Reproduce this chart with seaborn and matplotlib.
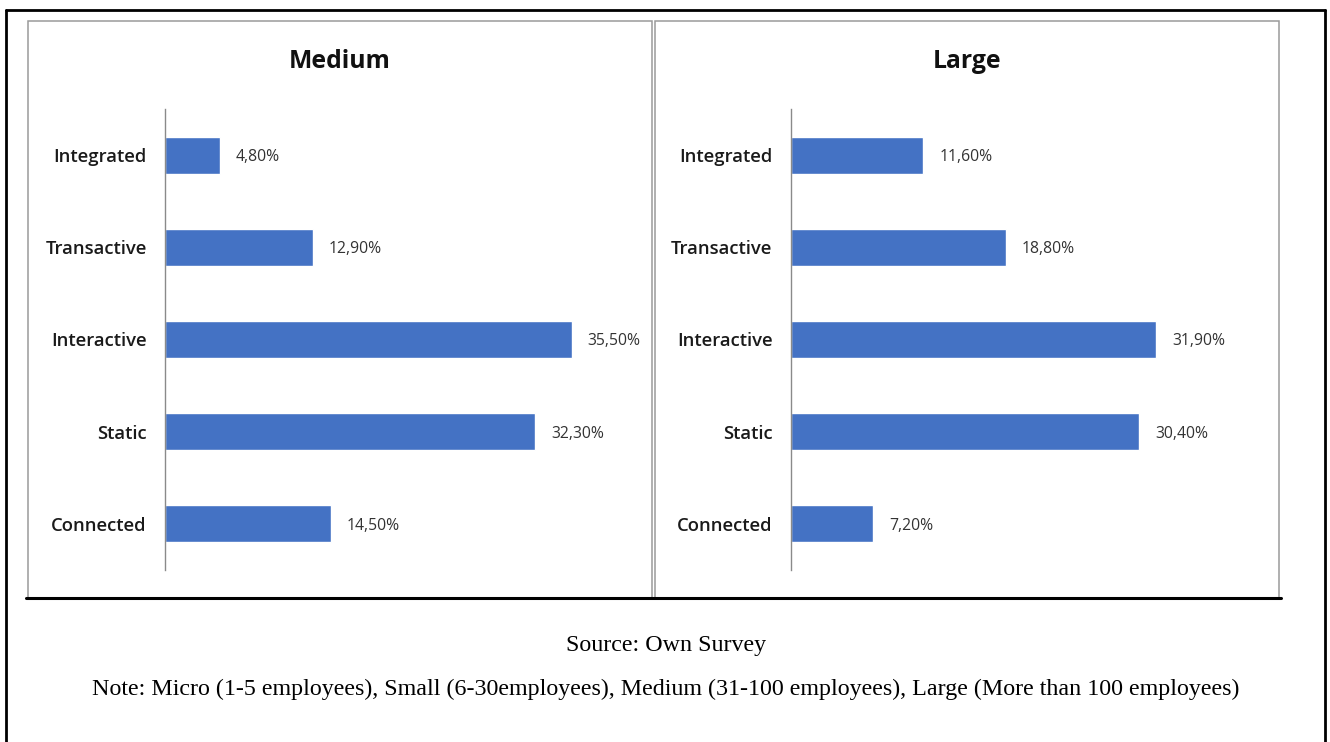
import matplotlib
matplotlib.use("Agg")
import matplotlib.pyplot as plt
from matplotlib.lines import Line2D
from matplotlib.patches import Rectangle
import seaborn as sns
import pandas as pd

# Website maturity stages by company size (share of firms, %)
categories = ["Integrated", "Transactive", "Interactive", "Static", "Connected"]
medium_values = [4.8, 12.9, 35.5, 32.3, 14.5]
large_values = [11.6, 18.8, 31.9, 30.4, 7.2]
panel_titles = ["Medium", "Large"]
source_text = "Source: Own Survey"
note_text = ("Note: Micro (1-5 employees), Small (6-30employees), Medium (31-100 employees), "
             "Large (More than 100 employees)")

BAR_COLOR = "#4472C4"
W, H = 1330, 742

sns.set_theme(style="white")
plt.rcParams["font.family"] = ["Open Sans", "DejaVu Sans"]

fig = plt.figure(figsize=(W / 100, H / 100), dpi=100)
fig.patch.set_facecolor("white")


def fx(x):
    return x / W


def fy(y):
    return 1 - y / H


def add_axes_px(left, top, right, bottom):
    return fig.add_axes([fx(left), fy(bottom), (right - left) / W, (bottom - top) / H])


# Outer black frame (open at the bottom edge of the page)
fig.add_artist(Line2D([fx(6), fx(6)], [fy(10), fy(745)], color="black", lw=2))
fig.add_artist(Line2D([fx(1325), fx(1325)], [fy(10), fy(745)], color="black", lw=2))
fig.add_artist(Line2D([fx(6), fx(1325)], [fy(10), fy(10)], color="black", lw=2))

# Grey chart-area borders of the two panels
panels = [(28, 21, 652, 598), (655, 21, 1279, 598)]
for (l, t, r, b) in panels:
    fig.add_artist(Rectangle((fx(l), fy(b)), (r - l) / W, (b - t) / H,
                             fill=False, edgecolor="#9a9a9a", lw=1.1))

# Black rule under the panels
fig.add_artist(Line2D([fx(26), fx(1281)], [fy(598), fy(598)], color="black", lw=2.2))

axis_lefts = [164.7, 790.5]
PX_PER_PCT = 11.46
XMAX = 40
series = [medium_values, large_values]

for i, (values, title) in enumerate(zip(series, panel_titles)):
    left = axis_lefts[i]
    ax = add_axes_px(left, 109, left + XMAX * PX_PER_PCT, 570)
    df = pd.DataFrame({"stage": categories, "share": values})
    sns.barplot(data=df, x="share", y="stage", order=categories, color=BAR_COLOR,
                saturation=1, width=0.4, ax=ax)
    ax.set_xlim(0, XMAX)
    ax.set_ylim(len(categories) - 0.5, -0.5)
    ax.set_xlabel("")
    ax.set_ylabel("")
    ax.set_xticks([])
    ax.tick_params(axis="y", length=0, pad=13, labelsize=13.3, labelcolor="#1a1a1a")
    for lab in ax.get_yticklabels():
        lab.set_fontweight("semibold")
    for side in ["top", "right", "bottom"]:
        ax.spines[side].set_visible(False)
    ax.spines["left"].set_color("#8a8a8a")
    ax.spines["left"].set_linewidth(1.0)
    ax.patch.set_alpha(0)
    for j, v in enumerate(values):
        ax.annotate(f"{v:.2f}%".replace(".", ","), xy=(v, j), xytext=(16, -2),
                    textcoords="offset pixels", va="center", ha="left",
                    fontsize=11.3, color="#333333")
    pl, pt, pr, pb = panels[i]
    fig.text(fx((pl + pr) / 2), fy(61), title, ha="center", va="center",
             fontsize=17.8, fontweight="bold", color="#111111")

serif = ["Liberation Serif", "DejaVu Serif"]
fig.text(fx(666), fy(645), source_text, ha="center", va="center",
         fontsize=17.3, family=serif, color="black")
fig.text(fx(666), fy(689), note_text, ha="center", va="center",
         fontsize=17.3, family=serif, color="black")

fig.savefig("out.png", dpi=100, facecolor="white")
